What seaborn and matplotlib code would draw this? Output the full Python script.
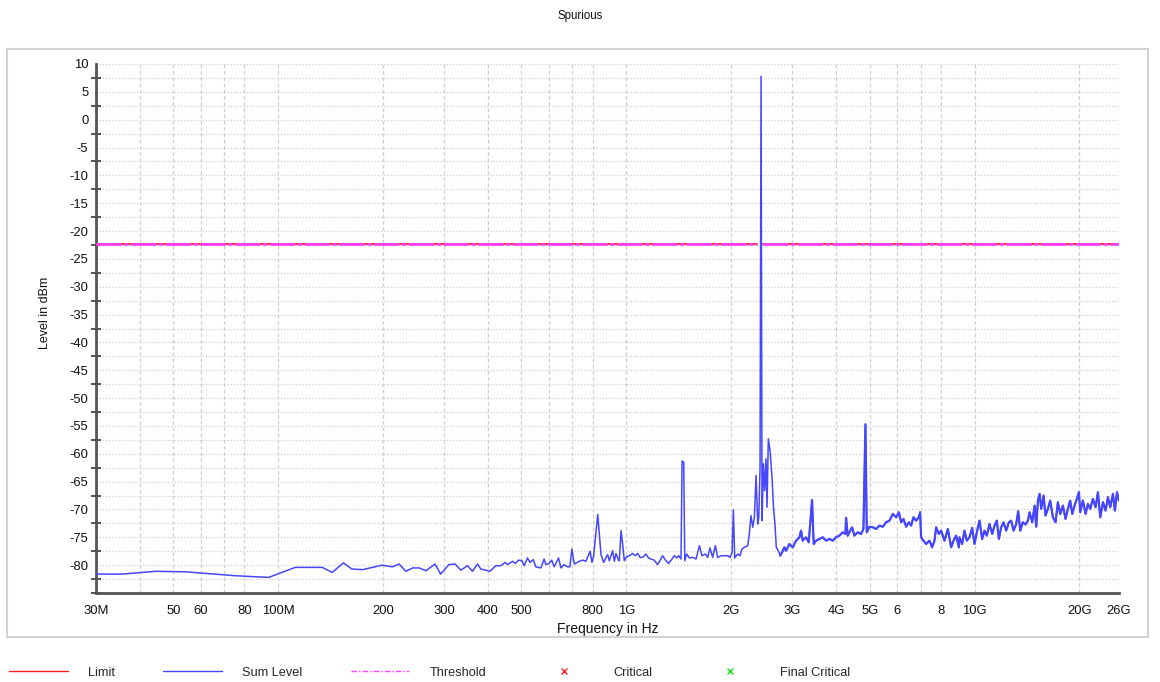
import numpy as np
import pandas as pd
import seaborn as sns
from matplotlib import pyplot as plt
from matplotlib.lines import Line2D
from matplotlib.patches import Rectangle
from matplotlib.ticker import FixedLocator, FixedFormatter, MultipleLocator

# sum level trace (frequency in MHz, level in dBm)
freq_mhz = [
    30, 35.7, 44.6, 54.3, 69, 75.5, 94, 112, 134, 143, 154, 163, 175, 199, 213,
    222.7, 232.9, 243.5, 254.4, 265.8, 282.4, 293, 309.6, 322.6, 334.9, 349.9, 361.6,
    373.9, 382.2, 395.2, 405.6, 422, 436.3, 449, 456, 471, 479.8, 490.6, 501.6, 509,
    520.5, 529.2, 540.4, 549.7, 568.5, 580.8, 587.4, 600.5, 611, 620.8, 639, 649, 663,
    678, 688.6, 698, 709, 733, 750, 766, 787, 797, 806, 828, 846, 861, 884, 894, 914,
    924, 934, 951,
    955, 966, 976, 987, 998, 1020, 1043, 1061, 1078, 1094, 1114, 1139, 1158, 1177,
    1203, 1230, 1249, 1271, 1299, 1323, 1353, 1374, 1396, 1414, 1436, 1446, 1462,
    1472, 1490, 1518, 1552, 1586, 1622, 1650, 1687, 1713, 1739, 1770, 1802, 1830,
    1871, 1913, 1956, 1986, 2013, 2030, 2048, 2089, 2122, 2150, 2183, 2233, 2256,
    2281, 2307, 2333, 2359, 2385, 2402, 2422, 2438, 2454, 2476, 2497, 2519, 2536,
    2558, 2587, 2623, 2647, 2672, 2697, 2747,
    2765, 2802, 2844, 2876, 2940, 3006, 3073, 3141, 3176, 3211, 3283, 3342, 3416,
    3453, 3508, 3586, 3666, 3748, 3831, 3917, 4004, 4093, 4184, 4258, 4277, 4325,
    4373, 4451, 4520, 4621, 4725, 4798, 4862, 4905, 4993, 5104, 5218, 5335, 5453,
    5575, 5700, 5827, 5957, 6063, 6157, 6252, 6364, 6477, 6577, 6680, 6799, 6918,
    6980, 7025, 7136, 7262, 7424, 7557, 7675, 7760, 7898, 8021, 8200, 8383, 8570,
    8704, 8858, 9017,
    9057, 9216, 9359, 9505, 9674, 9847, 10000, 10155, 10335, 10520, 10683, 10849,
    11042, 11240, 11415, 11592, 11747, 11930, 12115, 12332, 12551, 12746, 12944,
    13176, 13351, 13529, 13771, 14017, 14235, 14393, 14650, 14878, 15043, 15210,
    15379, 15550, 15792, 15996, 16244, 16497, 16793, 17090, 17357, 17626, 17941,
    18258, 18543, 18831, 19084, 19381, 19682, 19946, 20121, 20481, 20844, 21168,
    21498, 21878, 22270, 22617, 22969, 23380, 23792, 24163, 24539, 24977, 25308,
    25647, 25988,
]
level_dbm = [
    -81.6, -81.6, -81.1, -81.2, -81.7, -81.9, -82.2, -80.4, -80.4, -81.3, -79.6, -80.7,
    -80.8, -80.0, -80.3,
    -79.8, -81.1, -80.5, -80.5, -81.0, -79.8, -81.6, -79.9, -79.8, -80.9, -80.1, -81.1,
    -79.8, -80.7, -80.9, -81.1, -80.1, -80.1, -79.5, -79.9, -79.3, -79.7, -79.1, -79.2,
    -80.1, -78.7, -79.5, -79.0, -80.3, -80.5, -78.9, -79.9, -79.7, -79.1, -80.3, -78.7,
    -80.5, -79.9, -80.3, -80.3, -77.1, -79.8, -79.3, -79.1, -79.3, -77.5, -79.5, -78.3,
    -70.9, -78.1, -79.5, -78.1, -79.2, -77.4, -79.3, -77.9, -79.2,
    -79.2, -73.8, -76.2, -79.2, -78.6, -78.3, -77.9, -78.3, -77.9, -78.6, -78.6, -78.0,
    -78.7, -78.9, -79.1, -79.9, -79.2, -78.3, -79.2, -79.7, -78.9, -78.3, -78.7, -78.3,
    -78.9, -61.3, -61.5, -79.2, -78.0, -78.7, -78.6, -78.9, -76.5, -78.3, -78.0, -78.6,
    -76.9, -78.6, -76.5, -78.6, -78.3, -78.3, -78.3, -78.6, -77.7, -70.1, -78.7, -78.0,
    -78.3, -77.1, -76.8, -76.5, -74.4, -71.1, -73.2, -71.4, -63.9, -72.6, -71.4, -62.4,
    7.8, -72.0, -61.8, -66.6, -60.9, -69.6, -57.3, -59.4, -64.5, -69.6, -72.6, -76.8,
    -77.7,
    -78.3, -77.7, -76.8, -77.4, -76.2, -76.8, -75.6, -75.0, -73.8, -75.6, -75.0, -75.9,
    -68.3, -76.2, -75.6, -75.3, -75.0, -75.6, -75.3, -75.6, -75.0, -74.7, -74.1, -74.4,
    -71.5, -74.7, -74.1, -73.2, -74.7, -74.1, -74.4, -73.5, -54.7, -74.1, -73.1, -73.2,
    -73.5, -72.9, -73.1, -72.3, -72.0, -70.8, -71.4, -70.5, -72.3, -71.7, -73.1, -72.3,
    -72.9, -71.4, -72.0, -71.4, -70.5, -75.0, -75.6, -76.2, -75.6, -76.8, -75.6, -73.2,
    -74.4, -73.8, -75.6, -73.5, -76.8, -75.6, -74.7, -76.8,
    -75.0, -76.2, -73.8, -75.6, -75.0, -73.3, -76.2, -74.1, -72.0, -75.3, -73.8, -74.7,
    -72.6, -74.4, -72.9, -72.0, -75.3, -73.2, -72.3, -73.8, -72.3, -72.0, -73.8, -72.6,
    -70.3, -73.8, -72.3, -72.7, -72.0, -70.5, -72.3, -69.3, -73.1, -68.4, -67.2, -69.9,
    -67.5, -71.1, -69.9, -68.4, -71.4, -72.3, -68.7, -70.8, -69.3, -71.7, -69.9, -68.4,
    -70.8, -69.3, -68.1, -66.9, -70.5, -68.4, -70.8, -69.0, -69.9, -68.1, -69.6, -66.9,
    -71.4, -68.7, -70.2, -67.8, -69.6, -67.2, -70.2, -66.9, -68.4,
]

# above this the sweep is so dense that the trace reads as a thick band
dense_from_mhz = 2760

# limit / threshold line, with the gap around the 2.4 GHz band
limit_dbm = -22.3
limit_spans_mhz = [(30, 2380), (2470, 26000)]

tick_mhz = [30, 40, 50, 60, 70, 80, 100, 200, 300, 400, 500, 600, 700, 800,
            1000, 2000, 3000, 4000, 5000, 6000, 7000, 8000, 10000, 20000, 26000]
tick_labels = ["30M", "", "50", "60", "", "80", "100M", "200", "300", "400", "500",
               "", "", "800", "1G", "2G", "3G", "4G", "5G", "6", "", "8", "10G",
               "20G", "26G"]

legend_labels = ["Limit", "Sum Level", "Threshold", "Critical", "Final Critical"]

sns.set_theme(style="white")
plt.rcParams['font.family'] = ['Liberation Sans', 'DejaVu Sans']
plt.rcParams['axes.unicode_minus'] = False

df = pd.DataFrame({"freq": np.array(freq_mhz) * 1e6, "level": level_dbm})

fig = plt.figure(figsize=(11.6, 6.82), dpi=100)
ax = fig.add_axes([96 / 1160, 1 - 593 / 682, (1119 - 96) / 1160, (593 - 64) / 682])

for lo, hi in limit_spans_mhz:
    ax.plot([lo * 1e6, hi * 1e6], [limit_dbm, limit_dbm], color="#ff3030", lw=1.4, zorder=3)
    ax.plot([lo * 1e6, hi * 1e6], [limit_dbm, limit_dbm], color="#ff40ff", lw=2.0,
            ls=(0, (9, 1, 1.5, 1)), zorder=4)

sns.lineplot(data=df, x="freq", y="level", color="#4646ff", lw=1.1,
             estimator=None, sort=False, ax=ax, zorder=5)
sns.lineplot(data=df[df["freq"] >= dense_from_mhz * 1e6], x="freq", y="level",
             color="#4646ff", lw=1.6, estimator=None, sort=False, ax=ax, zorder=5)

ax.set_xscale("log")
ax.set_xlim(30e6, 26e9)
ax.set_ylim(-85, 10)

ax.xaxis.set_major_locator(FixedLocator([t * 1e6 for t in tick_mhz]))
ax.xaxis.set_major_formatter(FixedFormatter(tick_labels))
ax.xaxis.set_minor_locator(FixedLocator([]))
ax.set_yticks(list(range(-80, 11, 5)))
ax.yaxis.set_minor_locator(MultipleLocator(2.5))

ax.grid(True, which="major", axis="x", color="#cfcfcf", ls=(0, (3, 2)), lw=0.9)
ax.grid(True, which="both", axis="y", color="#cfcfcf", ls=(0, (1, 1.5)), lw=0.9)
ax.set_axisbelow(True)

for s in ["top", "right"]:
    ax.spines[s].set_visible(False)
for s in ["left", "bottom"]:
    ax.spines[s].set_color("#555555")
    ax.spines[s].set_linewidth(2)

ax.tick_params(axis="both", which="both", direction="inout", color="#333333",
               labelsize=9.4, labelcolor="#111111")
ax.tick_params(axis="both", which="major", length=7, width=1.2)
ax.tick_params(axis="y", which="minor", length=7, width=1.2, left=True)
ax.tick_params(axis="x", pad=5)
ax.tick_params(axis="y", pad=2)

ax.set_xlabel("Frequency in Hz", fontsize=10, color="#111111")
ax.xaxis.set_label_coords(0.5, -0.055)
ax.set_ylabel("Level in dBm", fontsize=9, color="#111111")
ax.yaxis.set_label_coords(-0.044, 0.53)
fig.suptitle("Spurious", y=0.985, fontsize=8.3, color="#111111")

fig.patches.append(Rectangle((7 / 1160, 1 - 637 / 682), (1148 - 7) / 1160, (637 - 49) / 682,
                             transform=fig.transFigure, fill=False,
                             edgecolor="#d2d2d2", lw=1.5))

handles = [
    Line2D([], [], color="#ff2020", lw=1),
    Line2D([], [], color="#4646ff", lw=1),
    Line2D([], [], color="#ff40ff", lw=1, ls=(0, (4, 1.5, 1, 1.5))),
    Line2D([], [], color="#ff2020", ls="none", marker="x", ms=4, mew=1),
    Line2D([], [], color="#20e020", ls="none", marker="x", ms=4, mew=1),
]
fig.legend(handles, legend_labels, loc="lower left", bbox_to_anchor=(0.005, 0.0),
           ncol=5, frameon=False, fontsize=9.2, handlelength=4.6, handletextpad=1.6,
           columnspacing=3.75, borderaxespad=0.0, borderpad=0.25)

fig.savefig("out.png", dpi=100)
